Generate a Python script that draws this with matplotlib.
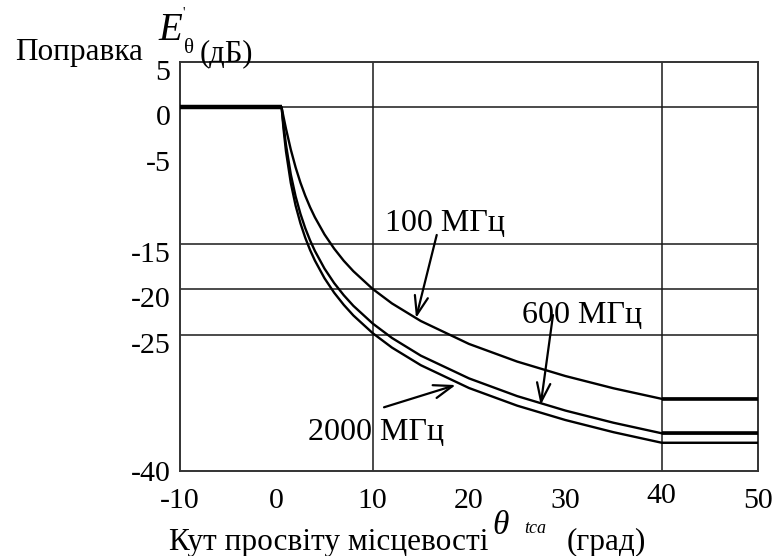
import matplotlib
matplotlib.use("Agg")
import matplotlib.pyplot as plt
from matplotlib.transforms import ScaledTranslation

plt.rcParams['font.family'] = ['Liberation Serif', 'DejaVu Serif']

# Terrain clearance angle, degrees
theta = [-10, 0.55, 0.75, 1, 1.5, 2, 2.5, 3, 3.5, 4, 5, 6, 7, 8, 10, 12, 15, 20, 25, 30, 35, 40, 50]

# Correction, dB
corr_100 = [0, 0, -1.06, -2.33, -4.63, -6.59, -8.27, -9.71, -10.97, -12.08, -13.97, -15.53,
            -16.87, -18.02, -19.97, -21.56, -23.50, -26.02, -27.96, -29.55, -30.90, -32.06, -32.06]
corr_600 = [0, 0, -1.98, -4.10, -7.36, -9.78, -11.70, -13.28, -14.62, -15.78, -17.73, -19.32,
            -20.66, -21.83, -23.77, -25.36, -27.31, -29.81, -31.76, -33.35, -34.69, -35.85, -35.85]
corr_2000 = [0, 0, -2.41, -4.82, -8.30, -10.80, -12.74, -14.33, -15.68, -16.84, -18.79, -20.38,
             -21.72, -22.89, -24.83, -26.42, -28.36, -30.87, -32.81, -34.39, -35.73, -36.89, -36.89]

series_labels = ["100 МГц", "600 МГц", "2000 МГц"]

x_ticks = [-10, 0, 10, 20, 30, 40, 50]
y_ticks = [5, 0, -5, -15, -20, -25, -40]
x_grid = [10, 40]
y_grid = [0, -15, -20, -25]

W, H = 774, 556
fig = plt.figure(figsize=(W / 100, H / 100), dpi=100)
ax = fig.add_axes([180 / W, 1 - 471 / H, (758 - 180) / W, (471 - 62) / H])
ax.set_xlim(-10, 50)
ax.set_ylim(-40, 5)

for g in x_grid:
    ax.axvline(g, color='#1a1a1a', lw=1.1, zorder=1)
for g in y_grid:
    ax.axhline(g, color='#1a1a1a', lw=1.1, zorder=1)

tail_widths = [2.6, 2.6, 1.1]
for ys, tw in zip([corr_100, corr_600, corr_2000], tail_widths):
    ax.plot(theta, ys, color='black', lw=1.7, zorder=3, solid_joinstyle='round')
    # plateau before the onset angle and beyond 40 degrees
    ax.plot(theta[:2], ys[:2], color='black', lw=3.0, zorder=3, solid_capstyle='butt')
    ax.plot(theta[-2:], ys[-2:], color='black', lw=tw, zorder=3, solid_capstyle='butt')

for sp in ax.spines.values():
    sp.set_color('#333333')
    sp.set_linewidth(1.4)

ax.set_xticks(x_ticks)
ax.set_xticklabels([str(v) for v in x_ticks])
ax.set_yticks(y_ticks)
ax.set_yticklabels([str(v) for v in y_ticks])
ax.tick_params(axis='both', length=0, labelsize=21.5)
ax.tick_params(axis='x', pad=12)
ax.tick_params(axis='y', pad=7)

for lab, v in zip(ax.get_yticklabels(), y_ticks):
    if v != -40:
        lab.set_transform(lab.get_transform() + ScaledTranslation(0, -0.08, fig.dpi_scale_trans))
for lab, v in zip(ax.get_xticklabels(), x_ticks):
    if v == 40:
        lab.set_transform(lab.get_transform() + ScaledTranslation(0, 0.05, fig.dpi_scale_trans))

# curve labels with arrows
label_pos = [(11.28, -13.6), (25.5, -23.68), (3.29, -36.59)]
arrow_tail = [(16.65, -14.03), (28.72, -22.84), (11.18, -32.99)]
arrow_tip = [(14.50, -23.17), (27.44, -32.74), (18.62, -30.54)]
for txt, p, t0, t1 in zip(series_labels, label_pos, arrow_tail, arrow_tip):
    ax.text(p[0], p[1], txt, fontsize=23, ha='left', va='baseline', zorder=5)
    ax.annotate('', xy=t1, xytext=t0,
                arrowprops=dict(arrowstyle='->,head_length=0.9,head_width=0.32',
                                color='black', lw=1.6, mutation_scale=15,
                                shrinkA=0, shrinkB=0), zorder=5)


def px(x, y):
    return x / W, 1 - y / H


# y-axis title
fig.text(*px(15, 60), "Поправка", fontsize=22.5, ha='left', va='baseline')
fig.text(*px(158, 40), "E", fontsize=28, style='italic', ha='left', va='baseline')
fig.text(*px(182, 17), "'", fontsize=10, ha='left', va='baseline')
fig.text(*px(184, 53), "θ", fontsize=15, ha='left', va='baseline')
fig.text(*px(200, 61), "(дБ)", fontsize=22, ha='left', va='baseline')

# x-axis title
fig.text(*px(169, 550), "Кут просвіту місцевості", fontsize=22.5, ha='left', va='baseline')
fig.text(*px(492, 534), "θ", fontsize=24, style='italic', ha='left', va='baseline')
fig.text(*px(524, 533), "tca", fontsize=13, style='italic', ha='left', va='baseline')
fig.text(*px(567, 550), "(град)", fontsize=22.5, ha='left', va='baseline')

fig.savefig("out.png", dpi=100)
